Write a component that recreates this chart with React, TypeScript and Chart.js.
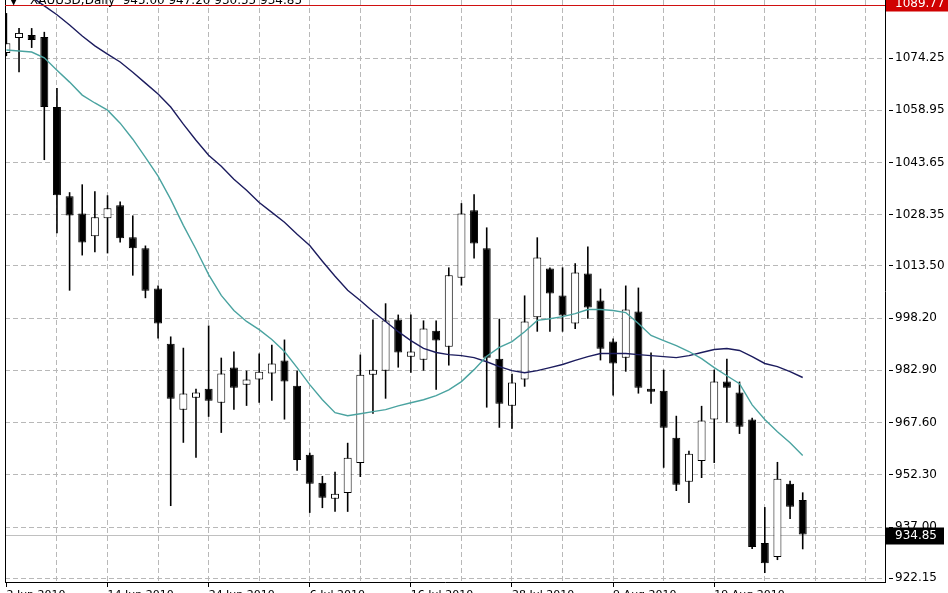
import React, { useEffect, useRef } from "react";
import { Chart, registerables } from "chart.js";

Chart.register(...registerables);

// ---- Data ----
const OPEN = [
  1075.7, 1080.1, 1081.0, 1080.4, 1059.9, 1033.8, 1028.8, 1022.1, 1027.4, 1031.2,
  1021.8, 1018.6, 1006.8, 990.7, 971.4, 974.9, 977.5, 973.4, 983.7, 978.7,
  980.2, 982.0, 985.8, 978.4, 958.2, 950.0, 945.3, 947.0, 955.8, 981.6,
  982.8, 997.8, 986.9, 986.0, 994.5, 989.8, 1010.0, 1029.7, 1018.6, 986.3,
  972.5, 980.2, 998.4, 1012.7, 1004.8, 996.6, 1011.2, 1003.3, 991.3, 986.6,
  1000.1, 977.5, 976.9, 963.2, 950.3, 956.4, 968.5, 979.6, 976.4, 968.5,
  932.4, 928.3, 949.7, 945.0,
];
const HIGH = [
  1087.4, 1083.0, 1083.0, 1081.9, 1065.5, 1035.0, 1037.3, 1035.3, 1034.1, 1032.3,
  1028.2, 1019.4, 1007.7, 992.8, 989.5, 977.5, 996.0, 986.6, 988.4, 982.8,
  987.8, 990.4, 991.9, 982.8, 958.8, 952.0, 953.2, 961.7, 987.5, 997.8,
  1002.5, 999.2, 999.2, 997.5, 997.5, 1013.0, 1031.8, 1034.4, 1024.7, 998.0,
  981.9, 1004.8, 1021.8, 1013.0, 1013.0, 1014.2, 1019.1, 1006.8, 992.2, 1007.7,
  1007.1, 988.1, 983.1, 969.6, 959.4, 972.5, 983.1, 986.3, 979.6, 969.0,
  942.9, 956.1, 950.6, 947.2,
];
const LOW = [
  1074.8, 1070.1, 1077.2, 1044.4, 1023.0, 1006.2, 1016.5, 1017.4, 1017.1, 1020.3,
  1010.6, 1004.0, 992.2, 943.2, 961.7, 957.3, 969.3, 964.6, 971.4, 972.5,
  973.4, 974.0, 968.5, 953.5, 941.2, 942.6, 941.5, 941.5, 951.7, 970.2,
  974.6, 983.7, 982.2, 982.8, 977.2, 984.3, 1007.7, 1015.6, 972.0, 966.1,
  965.8, 978.1, 994.2, 994.2, 994.2, 995.0, 998.0, 985.8, 975.5, 982.5,
  976.1, 973.1, 954.4, 947.6, 944.1, 951.4, 955.8, 967.6, 964.3, 930.6,
  923.6, 927.4, 939.4, 930.55,
];
const CLOSE = [
  1078.6, 1081.6, 1079.5, 1059.9, 1034.1, 1028.2, 1020.3, 1027.7, 1030.3, 1021.5,
  1018.6, 1006.2, 996.6, 974.6, 976.1, 976.4, 974.0, 982.0, 977.8, 980.2,
  982.5, 984.9, 979.6, 956.7, 949.7, 945.6, 946.8, 957.3, 981.6, 983.1,
  997.5, 988.1, 988.4, 995.1, 991.6, 1010.7, 1028.8, 1020.0, 986.6, 973.1,
  979.3, 997.2, 1015.9, 1005.4, 998.9, 1011.5, 1001.3, 989.2, 984.9, 1000.7,
  977.8, 976.6, 966.1, 949.4, 958.5, 968.2, 979.6, 977.8, 966.4, 931.2,
  926.5, 951.2, 943.0, 934.85,
];
// fast moving average (teal line)
const MA_FAST = [
  1076.6, 1076.3, 1076.0, 1074.3, 1070.7, 1067.2, 1063.4, 1061.1, 1059.0, 1055.2,
  1050.5, 1045.2, 1039.7, 1032.9, 1025.3, 1018.3, 1010.9, 1004.8, 1000.4, 997.2,
  994.8, 991.9, 988.4, 983.7, 978.7, 974.3, 970.5, 969.6, 970.2, 970.8,
  971.4, 972.5, 973.4, 974.3, 975.5, 977.2, 979.6, 983.1, 987.0, 989.6,
  991.3, 994.2, 997.5, 998.0, 998.6, 999.5, 1000.7, 1000.7, 1000.4, 999.8,
  996.6, 993.1, 991.6, 990.1, 988.4, 986.3, 983.7, 981.3, 979.0, 972.8,
  968.5, 964.9, 961.7, 958.0,
];
// slow moving average (navy line)
const MA_SLOW = [
  1097.4, 1094.8, 1092.1, 1089.5, 1086.9, 1083.9, 1080.7, 1077.8, 1075.4, 1073.1,
  1070.1, 1066.9, 1063.7, 1059.9, 1054.9, 1050.2, 1045.8, 1042.6, 1038.8, 1035.6,
  1032.0, 1029.1, 1026.2, 1022.7, 1019.4, 1014.8, 1010.4, 1006.3, 1003.3, 1000.1,
  997.2, 994.2, 991.6, 989.3, 988.1, 987.5, 987.2, 986.6, 985.4, 984.0,
  982.8, 982.2, 982.8, 983.7, 984.6, 985.8, 986.9, 987.8, 987.8, 987.8,
  987.5, 987.2, 986.9, 986.6, 987.2, 988.1, 989.0, 989.3, 988.7, 986.9,
  984.9, 984.0, 982.5, 980.8,
];
const Y_TICKS = [922.15, 937.0, 952.3, 967.6, 982.9, 998.2, 1013.5, 1028.35, 1043.65, 1058.95, 1074.25];
const X_GRID = [0, 4, 8, 12, 16, 20, 24, 28, 32, 36, 40, 44, 48, 52, 56, 60, 64, 68];
const X_LABEL_POS = [0, 8, 16, 24, 32, 40, 48, 56];
const X_LABELS = ["2 Jun 2010", "14 Jun 2010", "24 Jun 2010", "6 Jul 2010", "16 Jul 2010", "28 Jul 2010", "9 Aug 2010", "19 Aug 2010"];
const LEVEL_LINE = 1089.77;
const BID_LINE = 934.85;
const HEADER = "XAUUSD,Daily  945.00 947.20 930.55 934.85";

const Y_MIN = 920.98;
const Y_MAX = 1091.22;
const X_MIN = -0.11;
const X_MAX = 69.51;

const FONT = "DejaVu Sans";

const overlay = {
  id: "overlay",
  beforeDatasetsDraw(chart: any) {
    const { ctx, chartArea: a, scales } = chart;
    const yb = Math.round(scales.y.getPixelForValue(BID_LINE)) + 0.5;
    ctx.save();
    ctx.strokeStyle = "#c0c0c0";
    ctx.lineWidth = 1;
    ctx.beginPath();
    ctx.moveTo(a.left, yb);
    ctx.lineTo(a.right, yb);
    ctx.stroke();
    ctx.restore();
  },
  afterDraw(chart: any) {
    const { ctx, chartArea: a, scales } = chart;
    const y = scales.y;
    ctx.save();
    // left frame line
    ctx.strokeStyle = "#000";
    ctx.lineWidth = 1;
    ctx.beginPath();
    ctx.moveTo(a.left + 0.5, a.top);
    ctx.lineTo(a.left + 0.5, a.bottom);
    ctx.stroke();
    // red level line
    const yr = Math.round(y.getPixelForValue(LEVEL_LINE)) + 0.5;
    ctx.strokeStyle = "#d01010";
    ctx.beginPath();
    ctx.moveTo(a.left, yr);
    ctx.lineTo(a.right, yr);
    ctx.stroke();
    // header text (top is cut by the window)
    ctx.fillStyle = "#000";
    ctx.font = `12px ${FONT}`;
    ctx.textBaseline = "alphabetic";
    ctx.textAlign = "left";
    ctx.fillText("\u25BC", 9, 4);
    ctx.fillText(HEADER, 30, 4);
    // price boxes on the axis
    ctx.textBaseline = "middle";
    ctx.fillStyle = "#d00000";
    ctx.fillRect(a.right + 1, yr - 9, 948 - a.right - 1, 15);
    ctx.fillStyle = "#fff";
    ctx.fillText(LEVEL_LINE.toFixed(2), a.right + 10, yr - 2);
    const yb = Math.round(y.getPixelForValue(BID_LINE)) + 0.5;
    ctx.fillStyle = "#000";
    ctx.fillRect(a.right + 1, yb - 8, 58, 17);
    ctx.fillStyle = "#fff";
    ctx.fillText(BID_LINE.toFixed(2), a.right + 10, yb);
    ctx.restore();
  },
};

export default function App() {
  const ref = useRef<HTMLCanvasElement>(null);
  useEffect(() => {
    if (!ref.current) return;
    const bodyColors = OPEN.map((o, i) => (CLOSE[i] >= o ? "#ffffff" : "#000000"));
    const chart = new Chart(ref.current, {
      type: "bar",
      data: {
        datasets: [
          {
            type: "line",
            label: "MA fast",
            data: MA_FAST.map((v, i) => ({ x: i, y: v })),
            borderColor: "#4aa3a0",
            borderWidth: 1.4,
            pointRadius: 0,
            tension: 0,
            order: 0,
          } as any,
          {
            type: "line",
            label: "MA slow",
            data: MA_SLOW.map((v, i) => ({ x: i, y: v })),
            borderColor: "#1c1c5e",
            borderWidth: 1.4,
            pointRadius: 0,
            tension: 0,
            order: 1,
          } as any,
          {
            type: "bar",
            label: "body",
            data: OPEN.map((o, i) => ({ x: i, y: [o, CLOSE[i]] })),
            backgroundColor: bodyColors,
            borderColor: "#000",
            borderWidth: 1,
            borderSkipped: false,
            barThickness: 8,
            grouped: false,
            inflateAmount: 0,
            order: 2,
          } as any,
          {
            type: "bar",
            label: "wick",
            data: LOW.map((l, i) => ({ x: i, y: [l, HIGH[i]] })),
            backgroundColor: "#000",
            borderWidth: 0,
            barThickness: 1.6,
            grouped: false,
            inflateAmount: 0,
            order: 3,
          } as any,
        ],
      },
      options: {
        responsive: false,
        animation: false,
        events: [],
        layout: { padding: { left: 5, right: 0, top: 0, bottom: 0 } },
        plugins: { legend: { display: false }, tooltip: { enabled: false } },
        scales: {
          x: {
            type: "linear",
            min: X_MIN,
            max: X_MAX,
            offset: false,
            afterBuildTicks: (s: any) => {
              s.ticks = X_GRID.map((v) => ({ value: v }));
            },
            afterFit: (s: any) => {
              s.height = 23;
              s.paddingLeft = 0;
              s.paddingRight = 0;
            },
            ticks: {
              autoSkip: false,
              maxRotation: 0,
              minRotation: 0,
              align: "start",
              padding: 2,
              color: "#000",
              font: { family: FONT, size: 11 },
              callback: (v: any) => {
                const k = X_LABEL_POS.indexOf(Number(v));
                return k >= 0 ? X_LABELS[k] : "";
              },
            },
            grid: {
              offset: false,
              lineWidth: 1,
              color: (c: any) => (c.tick && c.tick.value === 0 ? "rgba(0,0,0,0)" : "#b8b8b8"),
              tickColor: (c: any) =>
                c.tick && X_LABEL_POS.indexOf(c.tick.value) >= 0 ? "#000" : "rgba(0,0,0,0)",
              tickLength: 5,
            },
            border: { display: true, color: "#000", width: 1, dash: [5, 3] },
          },
          y: {
            type: "linear",
            position: "right",
            min: Y_MIN,
            max: Y_MAX,
            afterBuildTicks: (s: any) => {
              s.ticks = Y_TICKS.map((v) => ({ value: v }));
            },
            afterFit: (s: any) => {
              s.width = 63;
              s.paddingTop = 0;
              s.paddingBottom = 0;
            },
            ticks: {
              autoSkip: false,
              padding: 2,
              color: "#000",
              font: { family: FONT, size: 12 },
              callback: (v: any) => Number(v).toFixed(2),
            },
            grid: {
              lineWidth: 1,
              color: "#b8b8b8",
              tickColor: "#000",
              tickLength: 8,
              tickBorderDash: [0, 3, 5, 30],
            },
            border: { display: true, color: "#000", width: 1, dash: [5, 3] },
          },
        },
      } as any,
      plugins: [overlay],
    });
    return () => chart.destroy();
  }, []);

  return (
    <div
      style={{
        position: "fixed",
        left: 0,
        top: 0,
        width: 948,
        height: 593,
        overflow: "hidden",
        background: "#fff",
      }}
    >
      <canvas ref={ref} width={948} height={605} style={{ display: "block" }} />
    </div>
  );
}
